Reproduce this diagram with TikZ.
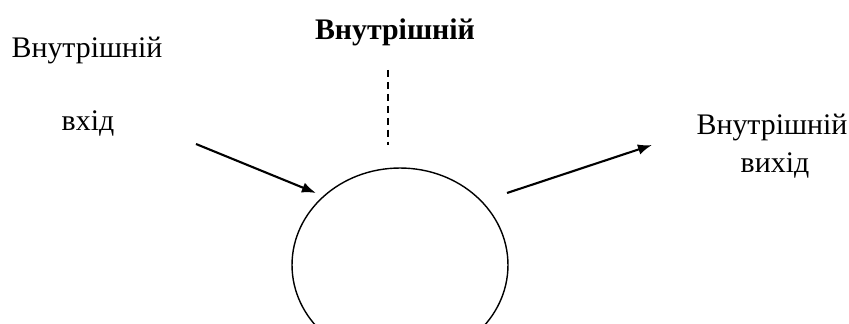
\documentclass[tikz,border=0pt]{standalone}
\usepackage{fontspec}
\setmainfont{Liberation Serif}
\usetikzlibrary{arrows.meta,shapes.geometric,positioning}

\begin{document}
\begin{tikzpicture}[
    x=0.02cm, y=-0.02cm,
    label/.style={font=\fontsize{17}{20}\selectfont, inner sep=0pt, anchor=base, align=center},
    title/.style={label, font=\fontsize{17}{20}\selectfont\bfseries},
    proc/.style={ellipse, draw, line width=0.8pt, minimum width=4.32cm, minimum height=3.88cm},
    arrow/.style={-{Latex[length=8pt,width=6pt]}, line width=1.2pt},
    link/.style={dash pattern=on 4pt off 2.8pt, line width=0.7pt}
]
\useasboundingbox (0,0) rectangle (849,324);
\clip (0,0) rectangle (849,324);

% Process
\node[proc] (proc) at (400,265) {};

% Labels
\node[title] (ctrl) at (395,40) {Внутрішній};
\node[label] (in1) at (87,58) {Внутрішній};
\node[label] (in2) at (88,131) {вхід};
\node[label] (out1) at (772,135) {Внутрішній};
\node[label] (out2) at (775,173) {вихід};

% Arrow ends
\coordinate (in_s) at (196,144);
\coordinate (in_e) at (316,193);
\coordinate (out_s) at (507,193);
\coordinate (out_e) at (652,145);
\coordinate (ctrl_s) at (388,70);
\coordinate (ctrl_e) at (388,145);

% Arrows
\draw[arrow] (in_s) -- (in_e);
\draw[arrow] (out_s) -- (out_e);
\draw[link] (ctrl_s) -- (ctrl_e);

\end{tikzpicture}
\end{document}
